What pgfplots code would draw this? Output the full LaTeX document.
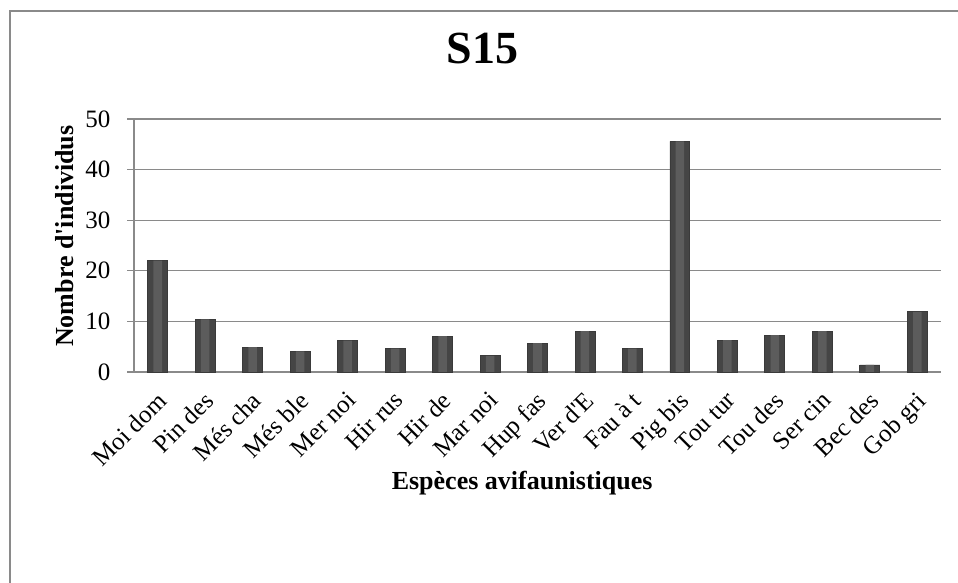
\documentclass[border=0pt]{standalone}
\usepackage{fontspec}
\setmainfont{Liberation Serif}
\usepackage{pgfplots}
\pgfplotsset{compat=1.18}

\definecolor{gridgray}{HTML}{8A8A8A}
\definecolor{bardark}{HTML}{3A3A3A}
\definecolor{barfill}{HTML}{454545}
\definecolor{barmid}{HTML}{5C5C5C}

\pgfplotstableread{
x  n    name
0  22   {Moi dom}
1  10.4 {Pin des}
2  4.9  {Més cha}
3  4.1  {Més ble}
4  6.2  {Mer noi}
5  4.6  {Hir rus}
6  7.1  {Hir de}
7  3.2  {Mar noi}
8  5.7  {Hup fas}
9  8.1  {Ver d\textquotesingle E}
10 4.6  {Fau à t}
11 45.6 {Pig bis}
12 6.3  {Tou tur}
13 7.3  {Tou des}
14 8.1  {Ser cin}
15 1.4  {Bec des}
16 11.9 {Gob gri}
}\birds

\begin{document}
\begin{tikzpicture}
\useasboundingbox (0pt,0pt) rectangle (958pt,583pt);
% outer chart frame (only top and left edges are visible)
\draw[gridgray, line width=1.2pt] (10pt,-5pt) -- (10pt,572pt) -- (965pt,572pt);
\begin{axis}[
    at={(134pt,211pt)}, anchor=south west,
    scale only axis,
    width=807pt, height=253pt,
    xmin=-0.5, xmax=16.5,
    ymin=0, ymax=50,
    ytick={0,10,...,50},
    xtick=data,
    xticklabels from table={\birds}{name},
    axis x line*=bottom,
    axis y line*=left,
    axis line style={gridgray, line width=1.2pt},
    ymajorgrids,
    major grid style={gridgray, line width=1.2pt},
    tick align=outside,
    major tick length=7pt,
    ytick style={gridgray, line width=1.2pt},
    xtick style={draw=none},
    tick label style={font=\fontsize{25}{28}\selectfont},
    /pgf/number format/assume math mode=true,
    yticklabel style={xshift=-13pt},
    xticklabel style={rotate=45, anchor=north east, xshift=-6pt, yshift=-3pt},
    title={S15},
    title style={font=\fontsize{46}{50}\selectfont\bfseries, at={(0.432,1.255)}, anchor=center},
    xlabel={Espèces avifaunistiques},
    xlabel style={font=\fontsize{26}{30}\selectfont\bfseries, at={(0.481,-0.44)}, anchor=center},
    ylabel={Nombre d\textquotesingle individus},
    ylabel style={font=\fontsize{26}{30}\selectfont\bfseries, at={(-0.0855,0.537)}, anchor=center},
    clip=false,
]
% bar body
\addplot[ybar, bar width=0.42, bar shift=0pt, draw=bardark, line width=0.8pt, fill=barfill]
    table[x=x, y=n] {\birds};
% lighter centre of each bar (cylinder look)
\addplot[ybar, bar width=0.18, bar shift=0pt, draw=none, fill=barmid]
    table[x=x, y=n] {\birds};
\end{axis}
\end{tikzpicture}
\end{document}
